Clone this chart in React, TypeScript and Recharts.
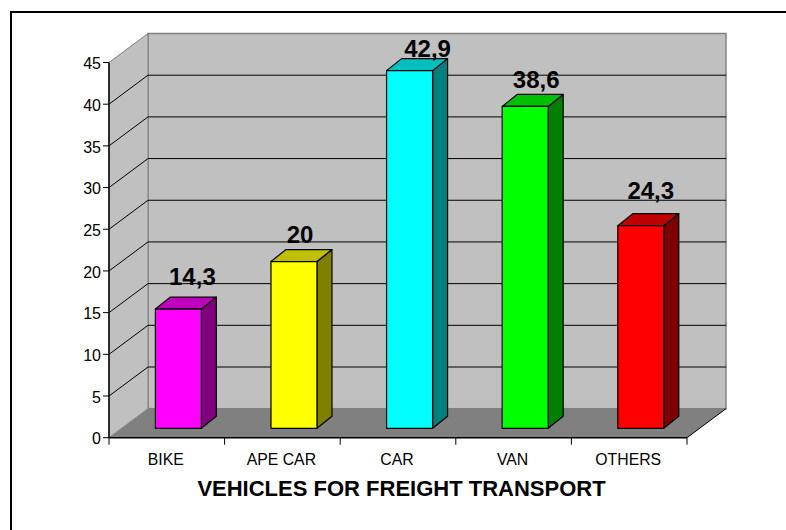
import { Bar, BarChart, CartesianGrid, LabelList, XAxis, YAxis, usePlotArea } from "recharts";

const categories = ["BIKE", "APE CAR", "CAR", "VAN", "OTHERS"];
const freightShare = [14.3, 20, 42.9, 38.6, 24.3];
const faceColors = ["#ff00ff", "#ffff00", "#00ffff", "#00ff00", "#ff0000"];
const topColors = ["#bf00bf", "#bfbf00", "#00bfbf", "#00bf00", "#bf0000"];
const sideColors = ["#7f007f", "#7f7f00", "#007f7f", "#007f00", "#7f0000"];
const yTicks = [0, 5, 10, 15, 20, 25, 30, 35, 40, 45];
const xTitle = "VEHICLES FOR FREIGHT TRANSPORT";

// hand-placed data labels in the original, nudged from the top of each bar
const labelNudgeX = [14, 6, 18, 11, 10];
const labelNudgeY = [-33, -27, -22, -27, -35];

const chartData = categories.map((name, i) => ({ name, value: freightShare[i] }));

const wallDx = 39;
const wallDy = 29;
const barDx = 15;
const barDy = 12;
const barShiftX = 11.7;
const barShiftY = 9.4;

function Walls() {
  const plot = usePlotArea();
  if (!plot) return null;
  const { x, y, width, height } = plot;
  const right = x + width;
  const bottom = y + height;
  return (
    <g>
      <rect x={x + wallDx} y={y - wallDy} width={width} height={height} fill="#c0c0c0" stroke="#808080" strokeWidth={1.5} />
      <polygon
        points={`${x},${y} ${x + wallDx},${y - wallDy} ${x + wallDx},${bottom - wallDy} ${x},${bottom}`}
        fill="#c0c0c0"
        stroke="#808080"
        strokeWidth={1}
      />
      <polygon
        points={`${x},${bottom} ${x + wallDx},${bottom - wallDy} ${right + wallDx},${bottom - wallDy} ${right},${bottom}`}
        fill="#808080"
      />
      <line x1={right} y1={bottom} x2={right + wallDx} y2={bottom - wallDy} stroke="#000" strokeWidth={1} />
    </g>
  );
}

function GridLine(props: any) {
  const { x1, x2, y1 } = props;
  const plot = usePlotArea();
  // 0 and 45 sit on the floor and the wall edge, so they get no black line
  if (y1 === undefined || !plot) return <g />;
  if (Math.abs(y1 - plot.y) < 1 || Math.abs(y1 - plot.y - plot.height) < 1) return <g />;
  return (
    <polyline
      points={`${x1},${y1} ${x1 + wallDx},${y1 - wallDy} ${x2 + wallDx},${y1 - wallDy}`}
      fill="none"
      stroke="#000"
      strokeWidth={1}
    />
  );
}

function CategoryTick(props: any) {
  const { x, index, payload } = props;
  const plot = usePlotArea();
  if (!plot) return null;
  const band = plot.width / categories.length;
  const axisY = plot.y + plot.height;
  const isLast = index === categories.length - 1;
  return (
    <g>
      <line x1={x - band / 2} y1={axisY} x2={x - band / 2} y2={axisY + 7} stroke="#000" />
      {isLast && <line x1={x + band / 2} y1={axisY} x2={x + band / 2} y2={axisY + 7} stroke="#000" />}
      <text
        x={x - 1}
        y={axisY + 21.5}
        textAnchor="middle"
        dominantBaseline="central"
        fontFamily="Liberation Sans"
        fontSize={15.8}
        fill="#000"
      >
        {payload.value}
      </text>
    </g>
  );
}

function Box(props: any) {
  const { x, y, width, height, index } = props;
  const left = x + barShiftX;
  const right = left + width;
  const top = y - barShiftY;
  const bottom = top + height;
  return (
    <g stroke="#000" strokeWidth={1.2} strokeLinejoin="round">
      <polygon
        points={`${right},${top} ${right + barDx},${top - barDy} ${right + barDx},${bottom - barDy} ${right},${bottom}`}
        fill={sideColors[index]}
      />
      <polygon
        points={`${left},${top} ${left + barDx},${top - barDy} ${right + barDx},${top - barDy} ${right},${top}`}
        fill={topColors[index]}
      />
      <rect x={left} y={top} width={width} height={height} fill={faceColors[index]} />
    </g>
  );
}

function ValueLabel(props: any) {
  const { x, y, width, index, value } = props;
  return (
    <text
      x={x + width / 2 + barShiftX + labelNudgeX[index]}
      y={y - barShiftY + labelNudgeY[index]}
      textAnchor="middle"
      dominantBaseline="central"
      fontFamily="Liberation Sans"
      fontWeight={700}
      fontSize={24}
      fill="#000"
    >
      {String(value).replace(".", ",")}
    </text>
  );
}

export default function App() {
  return (
    <div style={{ position: "absolute", left: 0, top: 0, width: 786, height: 530, overflow: "hidden", background: "#fff" }}>
      <div style={{ position: "absolute", left: 10, top: 11, width: 900, height: 600, border: "2px solid #000" }} />
      <BarChart
        width={786}
        height={530}
        data={chartData}
        margin={{ top: 62.5, right: 99, bottom: 32.3, left: 0 }}
        barCategoryGap="30%"
        style={{ position: "absolute", left: 0, top: 0 }}
      >
        <Walls />
        <CartesianGrid vertical={false} horizontal={<GridLine />} syncWithTicks zIndex={0} />
        <XAxis
          dataKey="name"
          height={60}
          interval={0}
          tick={<CategoryTick />}
          tickLine={false}
          axisLine={{ stroke: "#000", strokeWidth: 1.5 }}
          label={{
            value: xTitle,
            position: "insideBottom",
            offset: 2,
            dx: 3.5,
            fill: "#000",
            fontSize: 22,
            fontWeight: 700,
            fontFamily: "Liberation Sans",
          }}
        />
        <YAxis
          domain={[0, 45]}
          ticks={yTicks}
          interval={0}
          width={109}
          tick={{ fill: "#000", fontSize: 16, fontFamily: "Liberation Sans", dy: 1 }}
          tickLine={{ stroke: "#000" }}
          axisLine={{ stroke: "#000", strokeWidth: 1.5 }}
          tickSize={6}
          tickMargin={2}
        />
        <Bar dataKey="value" shape={<Box />} isAnimationActive={false}>
          <LabelList dataKey="value" content={<ValueLabel />} />
        </Bar>
      </BarChart>
    </div>
  );
}
